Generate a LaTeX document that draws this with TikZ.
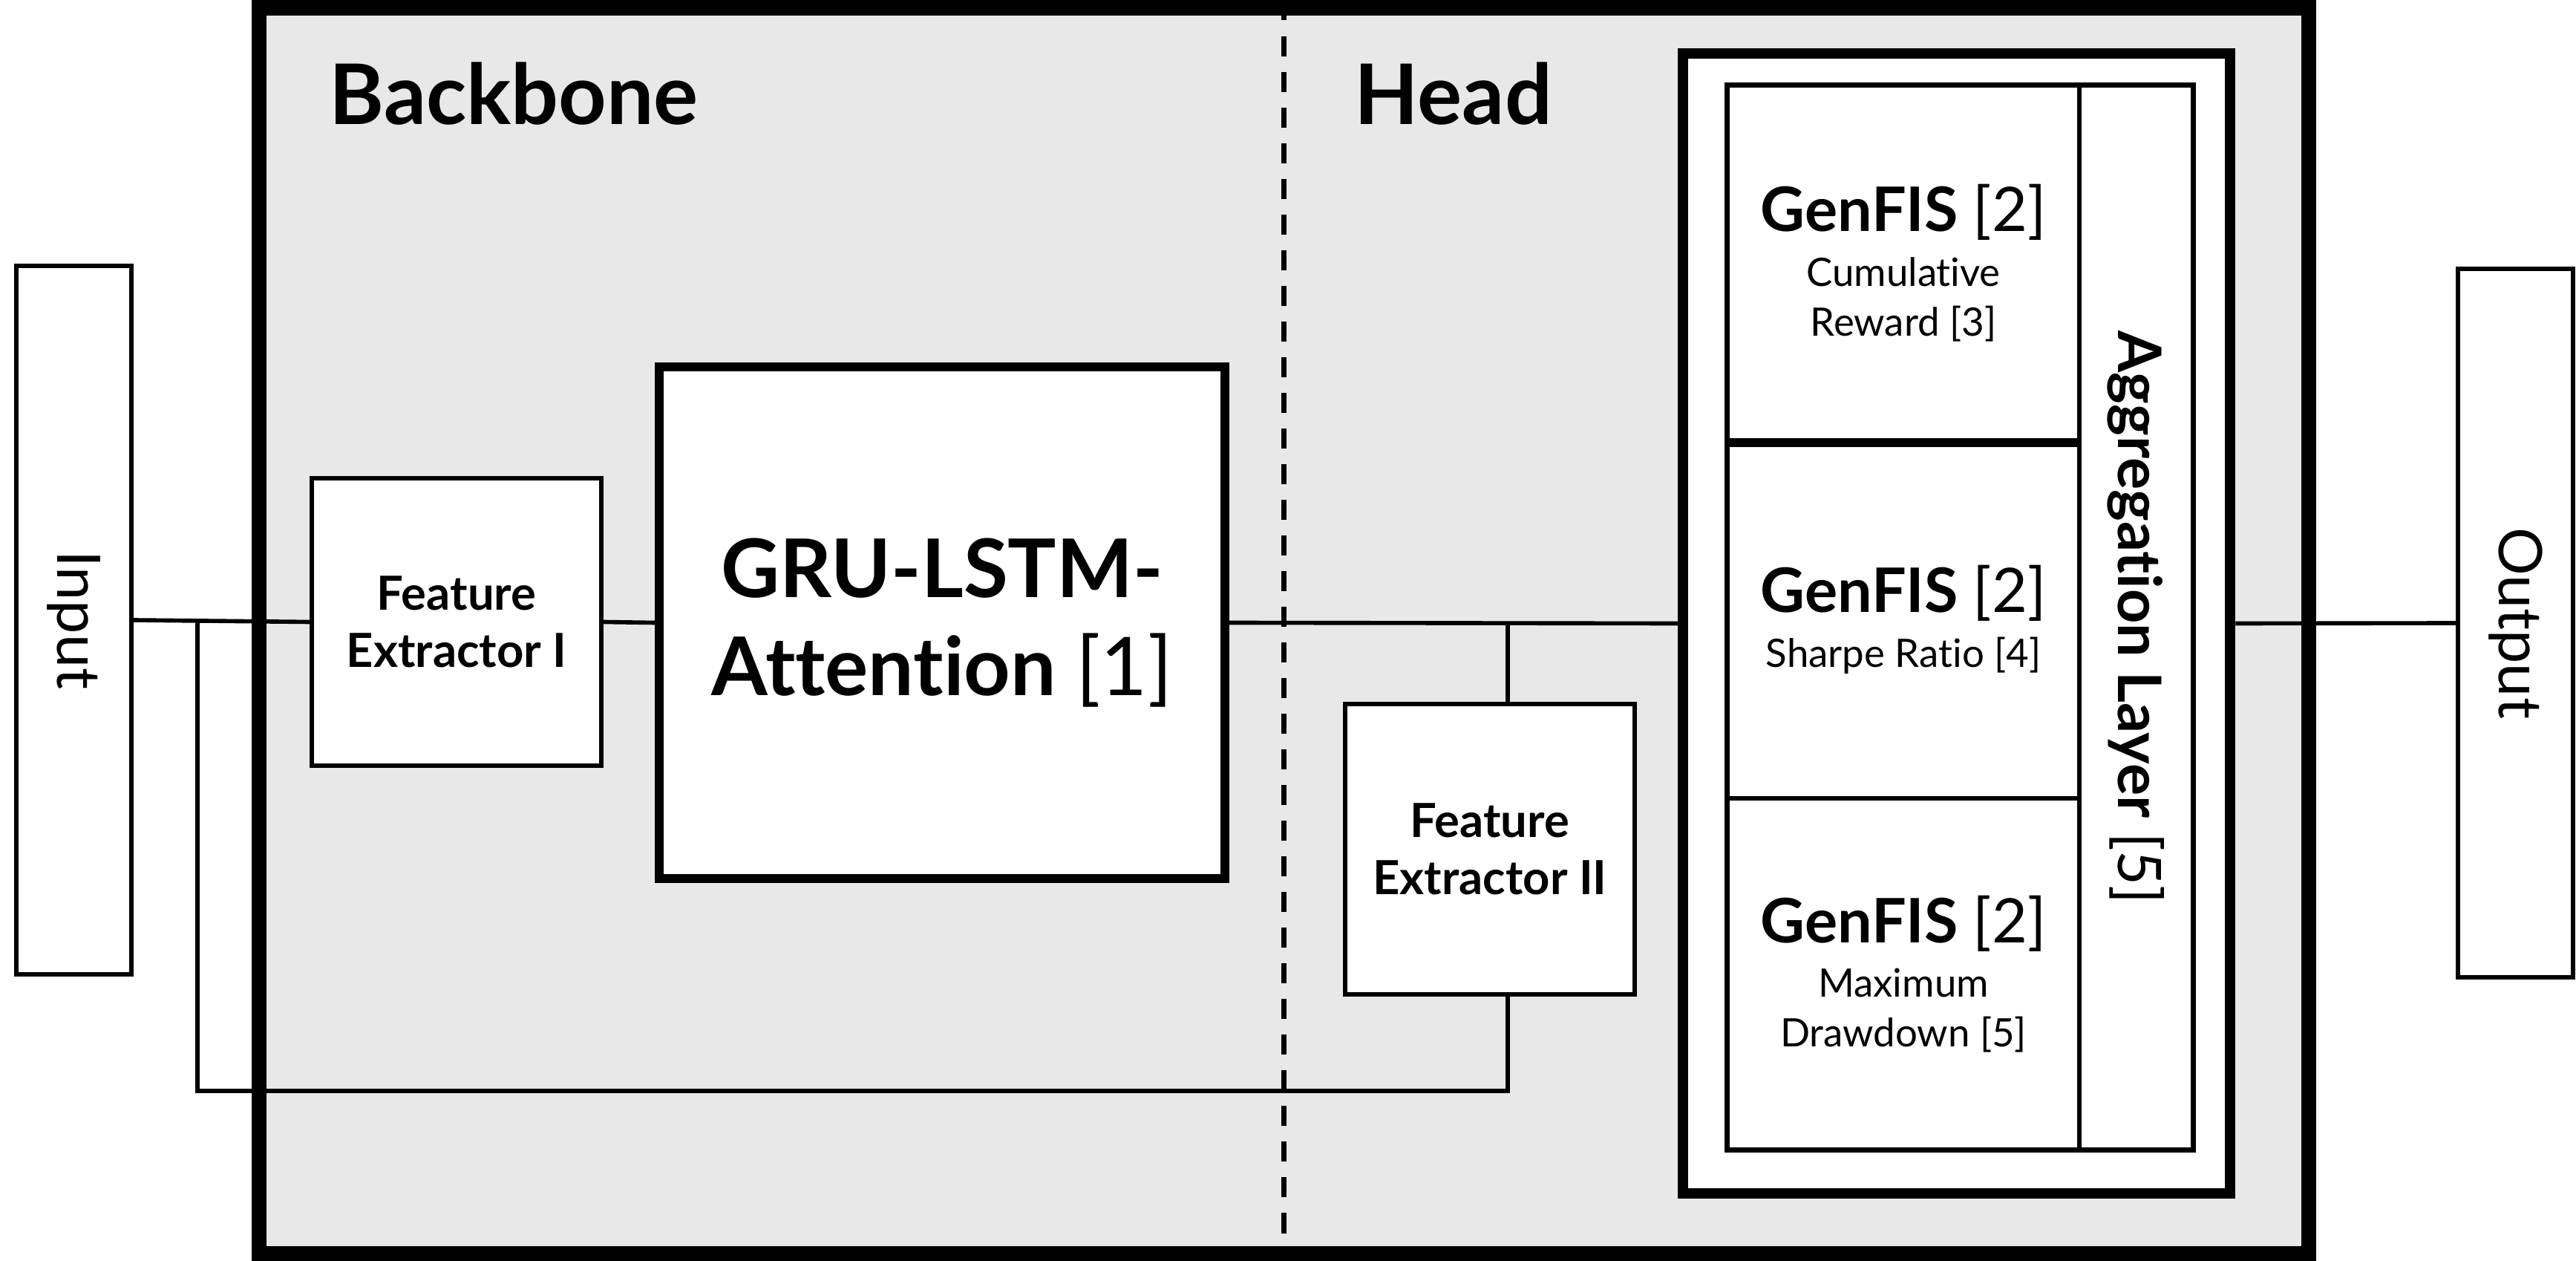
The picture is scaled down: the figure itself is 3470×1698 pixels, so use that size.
\documentclass[tikz,border=0pt]{standalone}
\usepackage{fontspec}
\setmainfont{Lato}[Ligatures=NoCommon]
\usetikzlibrary{positioning,calc}
\definecolor{bbFill}{HTML}{E8E8E8}
\definecolor{bbInk} {HTML}{000000}

\begin{document}
\begin{tikzpicture}[x=0.01cm,y=-0.01cm,
    thinbox/.style={draw=bbInk,line width=1.7pt,fill=white,inner sep=0,align=center},
    thickbox/.style={draw=bbInk,line width=3.4pt,fill=white,inner sep=0,align=center},
    wire/.style={draw=bbInk,line width=1.6pt},
    sect/.style={anchor=base west,inner sep=0,font=\fontsize{32}{37}\selectfont\bfseries},
    ioText/.style={rotate=-90,font=\fontsize{23}{28}\selectfont},
    feText/.style={font=\fontsize{18}{22}\selectfont\bfseries},
    fisText/.style={font=\fontsize{15}{19}\selectfont}]
  \useasboundingbox (0,0) rectangle (3470,1698);

  % frame with the two parts
  \node[draw=bbInk,line width=5.7pt,fill=bbFill,inner sep=0,
        minimum width=27.59cm,minimum height=16.77cm] (frame) at (1729.5,849.5) {};
  \draw[bbInk,line width=1.8pt,dash pattern=on 0.27cm off 0.21cm]
    (frame.north) -- (frame.south);
  \node[sect] (bb) at (443,168) {Backbone};
  \node[sect] (hd) at (1824,168) {Head};

  % input / output
  \node[thinbox,minimum width=1.55cm,minimum height=9.54cm] (input) at (99.5,835) {};
  \node[ioText] at (input) {Input};
  \node[thinbox,minimum width=1.55cm,minimum height=9.54cm] (output) at (3388.5,839) {};
  \node[ioText] at (output) {Output};

  % backbone
  \node[thinbox,feText,minimum width=3.9cm,minimum height=3.87cm] (fe1) at (615,837.5)
    {Feature\\Extractor I};
  \node[thickbox,minimum width=7.62cm,minimum height=6.88cm,
        font=\fontsize{31}{37.5}\selectfont] (gru) at (1269,838.5)
    {\bfseries GRU-LSTM-\\\bfseries Attention \mdseries[1]};

  % head
  \node[thinbox,feText,minimum width=3.9cm,minimum height=3.9cm] (fe2) at (2007,1143.5)
    {Feature\\Extractor II};
  \node[thickbox,line width=4pt,minimum width=7.37cm,minimum height=15.35cm] (agg) at (2635.5,839.5) {};
  \node[thinbox,line width=2pt,minimum width=6.27cm,minimum height=14.33cm] (inner) at (2640.5,831.5) {};
  \node[thinbox,fisText,minimum width=4.74cm,minimum height=4.78cm] (fis1) at (2564,354)
    {{\fontsize{23.5}{28}\selectfont\bfseries GenFIS \mdseries[2]}\\[2pt]Cumulative\\Reward [3]};
  \node[thinbox,fisText,minimum width=4.74cm,minimum height=4.82cm] (fis2) at (2564,834)
    {{\fontsize{23.5}{28}\selectfont\bfseries GenFIS \mdseries[2]}\\[2pt]Sharpe Ratio [4]};
  \node[thinbox,fisText,minimum width=4.74cm,minimum height=4.73cm] (fis3) at (2564,1311.5)
    {{\fontsize{23.5}{28}\selectfont\bfseries GenFIS \mdseries[2]}\\[2pt]Maximum\\Drawdown [5]};
  \node[thinbox,minimum width=1.53cm,minimum height=14.33cm] (aggl) at (2877.5,831.5) {};
  \node[ioText] at (aggl) {\bfseries Aggregation Layer \mdseries[5]};
  \draw[bbInk,line width=3.1pt] (fis1.south west) -- (fis1.south east);

  % connectors
  \coordinate (tap) at (2031,838);
  \coordinate (ret) at (266,1469);
  \draw[wire] (input.east) -- (fe1.west);
  \draw[wire] (fe1.east) -- (gru.west);
  \draw[wire] (gru.east) -- (agg.west);
  \draw[wire] (agg.east) -- (output.west);
  \draw[wire] (tap) -- (tap |- fe2.north);
  \draw[wire] (tap |- fe2.south) |- (ret) -- (ret |- input.east);
\end{tikzpicture}
\end{document}
